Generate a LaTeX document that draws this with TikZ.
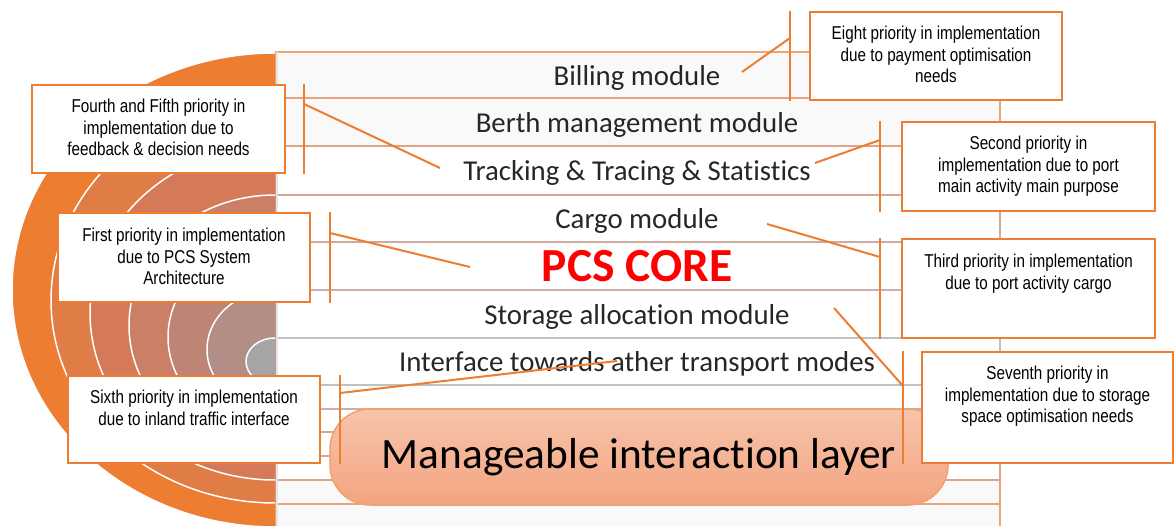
\documentclass[tikz,border=0pt]{standalone}
\usepackage{fontspec}
\setmainfont{Carlito}[Ligatures=NoCommon]
\newfontfamily\callfont[FakeStretch=0.82]{Liberation Sans}
\usetikzlibrary{positioning}
\definecolor{CallLine}{RGB}{237,125,49}
\definecolor{Ring0}{RGB}{237,125,49}
\definecolor{Ring1}{RGB}{224,124,70}
\definecolor{Ring2}{RGB}{213,122,88}
\definecolor{Ring3}{RGB}{203,127,103}
\definecolor{Ring4}{RGB}{190,133,117}
\definecolor{Ring5}{RGB}{178,142,135}
\definecolor{Ring6}{RGB}{165,165,165}
\definecolor{PaleFill}{RGB}{249,249,249}
\definecolor{RowTxt}{RGB}{38,38,38}
\definecolor{CoreRed}{RGB}{255,0,0}
\definecolor{LayTop}{RGB}{247,196,170}
\definecolor{LayBot}{RGB}{243,164,128}
\definecolor{LayLine}{RGB}{242,160,110}
\tikzset{
  pbox/.style={rectangle,draw=CallLine,line width=2.5pt,fill=white,inner sep=0pt},
  ptxt/.style={font=\callfont\fontsize{18.6}{21.7}\selectfont,align=center,inner sep=0pt},
  bar/.style={draw=CallLine,line width=2pt},
  lnk/.style={draw=CallLine,line width=2pt},
  row/.style={font=\fontsize{28.8}{32}\selectfont,text=RowTxt,inner sep=0pt},
  core/.style={font=\bfseries\fontsize{47.5}{52}\selectfont,text=CoreRed,inner sep=0pt},
  layer/.style={rectangle,rounded corners=40pt,draw=LayLine,line width=1.5pt,top color=LayTop,bottom color=LayBot,
    minimum width=618pt,minimum height=96pt,font=\fontsize{43.3}{48}\selectfont},
}

\begin{document}
\begin{tikzpicture}[x=1pt,y=-1pt]
\useasboundingbox (0,0) rectangle (1175,526);
\fill[white] (0,0) rectangle (1175,526);

% module bands, one frame per ring
\foreach \t/\b/\f [count=\n from 0] in {52/527/PaleFill,98/504/PaleFill,146/480/white,195/456/white,242/432/white,290/409/white,338/385/white}
  \filldraw[draw=Ring\n!70!white,line width=1.6pt,fill=\f] (276,\t) rectangle (1000,\b);
\draw[gray!20,line width=2pt] (276.5,52) -- (276.5,527);

% half target on the left
\begin{scope}
\clip (0,0) rectangle (275,526);
\foreach \t/\b/\r [count=\n from 0] in {53/527/263,98/503/224,146/480/185,195/456/146,242/432/107,290/409/68,338/385/29}{
  \pgfmathsetmacro\cy{(\t+\b)/2}
  \pgfmathsetmacro\ry{(\b-\t)/2}
  \filldraw[fill=Ring\n,draw=white,line width=1.5pt] (275,\cy) ellipse [x radius=\r pt,y radius=\ry pt];
}
\end{scope}

% module names
\node[row]  at (637,77.5)  (m1){Billing module};
\node[row]  at (637,124.5) (m2){Berth management module};
\node[row]  at (637,172.5) (m3){Tracking \& Tracing \& Statistics};
\node[row]  at (637,220.5) (m4){Cargo module};
\node[core] at (637,266)   (m5){PCS CORE};
\node[row]  at (637,316.5) (m6){Storage allocation module};
\node[row]  at (637,363.5) (m7){Interface towards ather transport modes};
\node[layer] at (639,457) (mil){Manageable interaction layer};

% priority boxes
\node[pbox,minimum width=252pt,minimum height=88pt] at (936,56)      (pr8){};
\node[pbox,minimum width=253pt,minimum height=88pt] at (158.5,129)   (pr45){};
\node[pbox,minimum width=253pt,minimum height=89pt] at (1028.5,166.5)(pr2){};
\node[pbox,minimum width=252pt,minimum height=89pt] at (184,257.5)   (pr1){};
\node[pbox,minimum width=253pt,minimum height=99pt] at (1028.5,288.5)(pr3){};
\node[pbox,minimum width=251pt,minimum height=111pt] at (1047.5,407.5)(pr7){};
\node[pbox,minimum width=252pt,minimum height=87pt] at (194,419.5)   (pr6){};

\node[ptxt,below=15pt of pr8.north]  (tx8){Eight priority in implementation\\due to payment optimisation\\needs};
\node[ptxt,below=15pt of pr45.north] (tx45){Fourth and Fifth priority in\\implementation due to\\feedback \& decision needs};
\node[ptxt,below=15pt of pr2.north]  (tx2){Second priority in\\implementation due to port\\main activity main purpose};
\node[ptxt,below=16pt of pr1.north]  (tx1){First priority in implementation\\due to PCS System\\Architecture};
\node[ptxt,below=16pt of pr3.north]  (tx3){Third priority in implementation\\due to port activity cargo};
\node[ptxt,below=15pt of pr7.north]  (tx7){Seventh priority in\\implementation due to storage\\space optimisation needs};
\node[ptxt,below=15pt of pr6.north]  (tx6){Sixth priority in implementation\\due to inland traffic interface};

% callout bars and leaders
\coordinate (k8) at (790,38);   \coordinate (t8) at (742,72);
\coordinate (k45) at (304,104); \coordinate (t45) at (440,168);
\coordinate (k2) at (880,140);  \coordinate (t2) at (815,163);
\coordinate (k1) at (330,233);  \coordinate (t1) at (470,267);
\coordinate (k3) at (880,257);  \coordinate (t3) at (767,224);
\coordinate (k7) at (903,386);  \coordinate (t7) at (834,308);
\coordinate (k6) at (340,393);  \coordinate (t6) at (617,361);

\draw[bar](pr8.north -| k8)--(pr8.south -| k8);
\draw[bar](pr45.north -| k45)--(pr45.south -| k45);
\draw[bar](pr2.north -| k2)--(pr2.south -| k2);
\draw[bar](pr1.north -| k1)--(pr1.south -| k1);
\draw[bar](pr3.north -| k3)--(pr3.south -| k3);
\draw[bar](pr7.north -| k7)--(pr7.south -| k7);
\draw[bar](pr6.north -| k6)--(pr6.south -| k6);

\draw[lnk](k8)--(t8);
\draw[lnk](k45)--(t45);
\draw[lnk](k2)--(t2);
\draw[lnk](k1)--(t1);
\draw[lnk](k3)--(t3);
\draw[lnk](k7)--(t7);
\draw[lnk](k6)--(t6);

\end{tikzpicture}
\end{document}
